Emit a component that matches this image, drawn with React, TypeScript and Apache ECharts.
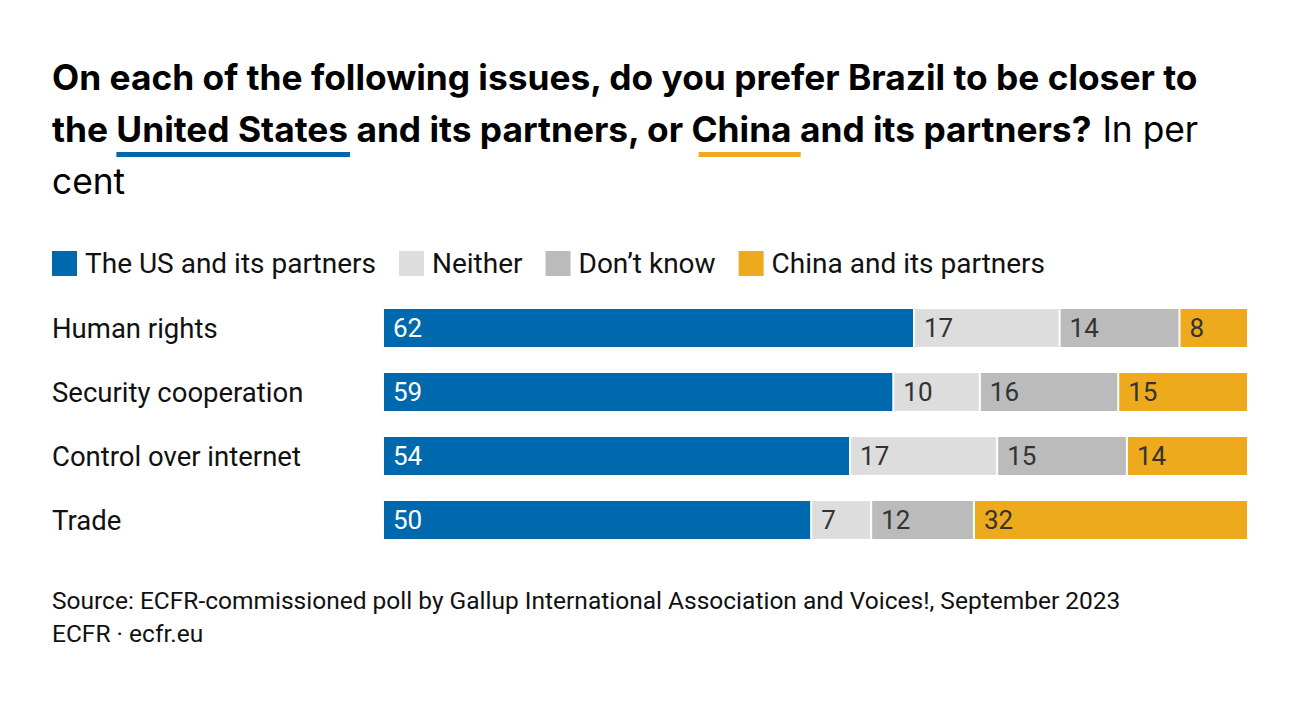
import React, { useEffect, useRef } from "react";
import * as echarts from "echarts";

const categories = ["Human rights", "Security cooperation", "Control over internet", "Trade"];
const seriesNames = ["The US and its partners", "Neither", "Don\u2019t know", "China and its partners"];
const usValues = [62, 59, 54, 50];
const neitherValues = [17, 10, 17, 7];
const dontKnowValues = [14, 16, 15, 12];
const chinaValues = [8, 15, 14, 32];
const colors = ["#0068AD", "#DDDDDD", "#BBBBBB", "#EDAA1D"];
const labelColors = ["#FFFFFF", "#333333", "#333333", "#333333"];

const FONT = "Roboto, 'Noto Sans', sans-serif";
const TITLE_FONT = "Inter, Roboto, sans-serif";

function measure(text: string, font: string): number {
  const c = document.createElement("canvas");
  const ctx = c.getContext("2d")!;
  ctx.font = font;
  return ctx.measureText(text).width;
}

export default function App() {
  const ref = useRef<HTMLDivElement>(null);
  useEffect(() => {
    const chart = echarts.init(ref.current!, undefined, { renderer: "svg" });
    const all = [usValues, neitherValues, dontKnowValues, chinaValues];
    const totals = categories.map((_, i) => all.reduce((s, arr) => s + arr[i], 0));

    const line1 = "On each of the following issues, do you prefer Brazil to be closer to";
    const w30 = measure(line1, `700 30px ${TITLE_FONT}`);
    const titleSize = Math.round((30 * 1148) / w30 * 10) / 10;
    const boldFont = `700 ${titleSize}px ${TITLE_FONT}`;
    const normFont = `400 ${titleSize}px ${TITLE_FONT}`;
    const x0 = 52;
    const wThe = measure("the ", boldFont);
    const wUS = measure("United States", boldFont);
    const wMid = measure(" and its partners, or ", boldFont);
    const wCN = measure("China", boldFont);

    const series = all.map((arr, si) => ({
      name: seriesNames[si],
      type: "bar",
      stack: "total",
      barWidth: 40,
      itemStyle: { color: colors[si], borderColor: "#FFFFFF", borderWidth: 1 },
      label: {
        show: true,
        position: "insideLeft",
        distance: 10,
        color: labelColors[si],
        fontSize: 26,
        fontFamily: FONT,
        formatter: (p: any) => String(p.data.raw),
      },
      emphasis: { disabled: true },
      data: arr.map((v, i) => ({ value: (v / totals[i]) * 100, raw: v })),
    }));

    chart.setOption({
      animation: false,
      textStyle: { fontFamily: FONT },
      legend: {
        left: 45,
        top: 244,
        icon: "rect",
        itemWidth: 27,
        itemHeight: 27,
        itemGap: 21,
        selectedMode: false,
        textStyle: { fontSize: 28, color: "#111111", fontFamily: FONT, padding: [0, 0, 0, 2] },
        data: seriesNames,
      },
      grid: { left: 383, right: 52, top: 296, height: 256 },
      xAxis: { type: "value", min: 0, max: 100, show: false },
      yAxis: {
        type: "category",
        inverse: true,
        data: categories,
        axisLine: { show: false },
        axisTick: { show: false },
        axisLabel: {
          align: "left",
          margin: 331,
          fontSize: 27.5,
          color: "#111111",
          fontFamily: FONT,
        },
      },
      series,
      graphic: [
        {
          type: "text",
          style: {
            x: x0,
            y: 77,
            verticalAlign: "middle",
            text: line1,
            font: boldFont,
            fill: "#000000",
          },
        },
        {
          type: "text",
          style: {
            x: x0,
            y: 129,
            verticalAlign: "middle",
            text: "{b|the United States and its partners, or China and its partners?}{n| In per}",
            fill: "#000000",
            rich: {
              b: { font: boldFont, fill: "#000000" },
              n: { font: normFont, fill: "#000000" },
            },
          },
        },
        {
          type: "text",
          style: { x: x0, y: 181, verticalAlign: "middle", text: "cent", font: normFont, fill: "#000000" },
        },
        {
          type: "rect",
          shape: { x: x0 + wThe, y: 152, width: wUS + 2, height: 5 },
          style: { fill: "#0068AD" },
        },
        {
          type: "rect",
          shape: { x: x0 + wThe + wUS + wMid + 6, y: 152, width: wCN + 2, height: 5 },
          style: { fill: "#EDAA1D" },
        },
        {
          type: "text",
          style: {
            x: x0,
            y: 600,
            verticalAlign: "middle",
            text: "Source: ECFR-commissioned poll by Gallup International Association and Voices!, September 2023",
            fontSize: 24.5,
            fontFamily: FONT,
            fill: "#111111",
          },
        },
        {
          type: "text",
          style: { x: x0, y: 633, verticalAlign: "middle", text: "ECFR \u00b7 ecfr.eu", fontSize: 24.5, fontFamily: FONT, fill: "#111111" },
        },
      ],
    });
    return () => chart.dispose();
  }, []);
  return <div ref={ref} style={{ width: 1300, height: 704, position: "absolute", left: 0, top: 0 }} />;
}
